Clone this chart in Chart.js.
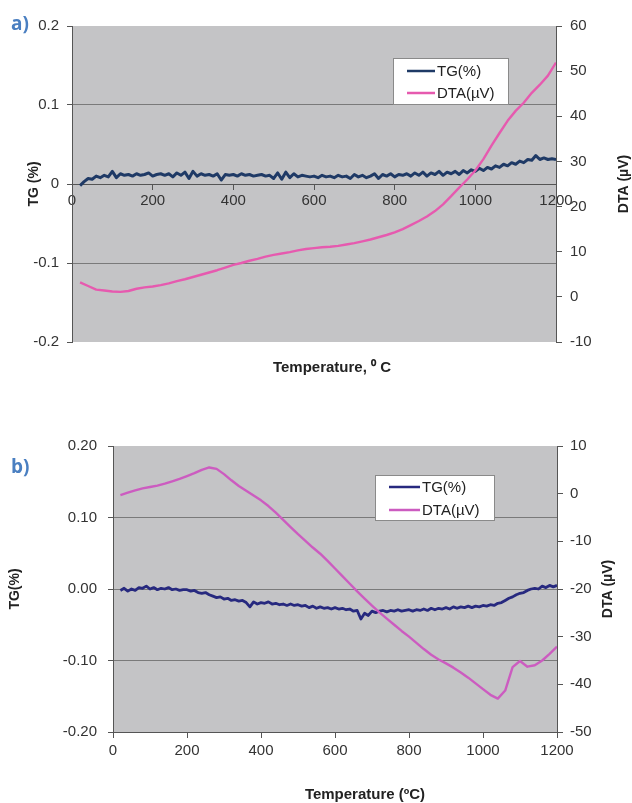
<!DOCTYPE html>
<html>
<head>
<meta charset="utf-8">
<script src="https://cdn.jsdelivr.net/npm/chart.js@4.4.0/dist/chart.umd.min.js"></script>
<style>
html,body{margin:0;padding:0;background:#fff;}
body{width:632px;height:803px;position:relative;overflow:hidden;}
.box{position:absolute;left:0;width:632px;}
.tag{position:absolute;left:11px;z-index:2;font-family:'Open Sans',sans-serif;font-weight:700;font-size:19px;line-height:19px;color:#4a7fc1;}
</style>
</head>
<body>
<div class="box" style="top:0;height:395px"><canvas id="chartA"></canvas></div>
<div class="box" style="top:400px;height:403px"><canvas id="chartB"></canvas></div>
<div class="tag" style="top:14px">a)</div>
<div class="tag" style="top:457px">b)</div>
<script>
// ===================== DATA =====================
// temperature grid (°C) for the TG traces
const tempTG = [
  20,30,40,50,60,70,80,90,100,110,
  120,130,140,150,160,170,180,190,200,210,
  220,230,240,250,260,270,280,290,300,310,
  320,330,340,350,360,370,380,390,400,410,
  420,430,440,450,460,470,480,490,500,510,
  520,530,540,550,560,570,580,590,600,610,
  620,630,640,650,660,670,680,690,700,710,
  720,730,740,750,760,770,780,790,800,810,
  820,830,840,850,860,870,880,890,900,910,
  920,930,940,950,960,970,980,990,1000,1010,
  1020,1030,1040,1050,1060,1070,1080,1090,1100,1110,
  1120,1130,1140,1150,1160,1170,1180,1190,1200
];
// temperature grid (°C) for the DTA traces
const tempDTA = [
  20,40,60,80,100,120,140,160,180,200,
  220,240,260,280,300,320,340,360,380,400,
  420,440,460,480,500,520,540,560,580,600,
  620,640,660,680,700,720,740,760,780,800,
  820,840,860,880,900,920,940,960,980,1000,
  1020,1040,1060,1080,1100,1120,1140,1160,1180,1200
];

// a) TG (%)
const tgA = [
  -0.002,0.003,0.007,0.006,0.010,0.008,0.011,0.009,0.016,0.008,
  0.013,0.011,0.012,0.010,0.013,0.011,0.012,0.014,0.010,0.012,
  0.013,0.011,0.013,0.009,0.014,0.011,0.015,0.007,0.016,0.010,
  0.013,0.011,0.012,0.010,0.013,0.005,0.012,0.011,0.012,0.010,
  0.013,0.011,0.012,0.010,0.011,0.012,0.010,0.011,0.007,0.014,
  0.006,0.015,0.008,0.013,0.009,0.011,0.010,0.009,0.010,0.008,
  0.011,0.009,0.010,0.008,0.011,0.009,0.010,0.007,0.012,0.009,
  0.011,0.008,0.010,0.013,0.007,0.012,0.010,0.013,0.009,0.012,
  0.011,0.013,0.010,0.014,0.011,0.015,0.010,0.014,0.012,0.016,
  0.011,0.015,0.013,0.016,0.012,0.017,0.014,0.018,0.016,0.020,
  0.017,0.021,0.019,0.023,0.021,0.025,0.023,0.027,0.025,0.029,
  0.027,0.031,0.030,0.036,0.031,0.033,0.031,0.032,0.031
];
// a) DTA (µV)
const dtaA = [
  3.2,2.4,1.6,1.4,1.2,1.1,1.3,1.8,2.1,2.3,
  2.6,3.0,3.5,3.9,4.4,4.9,5.4,5.9,6.5,7.1,
  7.5,8.0,8.4,8.9,9.3,9.6,9.9,10.3,10.6,10.8,
  11.0,11.1,11.3,11.6,11.9,12.3,12.7,13.2,13.7,14.3,
  15.0,15.9,16.8,17.8,19.0,20.5,22.3,24.2,26.0,28.0,
  30.5,33.5,36.3,39.0,41.2,43.0,45.2,47.0,49.0,51.9
];

// b) TG (%)
const tgB = [
  -0.002,0.001,-0.003,0.000,-0.002,0.002,0.001,0.004,0.000,0.002,
  -0.001,0.001,0.000,0.002,-0.001,0.000,-0.002,-0.001,-0.001,-0.003,
  -0.002,-0.005,-0.006,-0.005,-0.008,-0.010,-0.012,-0.011,-0.014,-0.013,
  -0.016,-0.015,-0.017,-0.016,-0.019,-0.025,-0.018,-0.021,-0.019,-0.020,
  -0.018,-0.021,-0.020,-0.022,-0.021,-0.023,-0.021,-0.023,-0.022,-0.024,
  -0.023,-0.026,-0.024,-0.027,-0.025,-0.027,-0.026,-0.028,-0.026,-0.028,
  -0.027,-0.029,-0.028,-0.031,-0.030,-0.042,-0.034,-0.037,-0.031,-0.033,
  -0.031,-0.030,-0.032,-0.030,-0.031,-0.029,-0.031,-0.030,-0.029,-0.031,
  -0.029,-0.030,-0.028,-0.030,-0.027,-0.029,-0.027,-0.028,-0.026,-0.028,
  -0.025,-0.027,-0.025,-0.026,-0.024,-0.026,-0.024,-0.025,-0.023,-0.024,
  -0.022,-0.023,-0.020,-0.019,-0.016,-0.013,-0.011,-0.008,-0.006,-0.005,
  -0.002,0.000,0.001,0.000,0.004,0.002,0.005,0.003,0.005
];
// b) DTA (µV)
const dtaB = [
  -0.3,0.2,0.7,1.1,1.4,1.7,2.1,2.6,3.1,3.7,
  4.3,5.0,5.5,5.2,4.1,2.8,1.6,0.6,-0.4,-1.4,
  -2.6,-4.0,-5.5,-7.0,-8.5,-9.9,-11.3,-12.6,-14.1,-15.7,
  -17.3,-18.9,-20.5,-22.0,-23.5,-24.9,-26.2,-27.5,-28.8,-30.0,
  -31.3,-32.6,-33.8,-34.8,-35.6,-36.5,-37.5,-38.6,-39.8,-41.0,
  -42.2,-43.0,-41.3,-36.4,-35.1,-36.3,-36.0,-35.0,-33.6,-32.1
];

const seriesLabels = ['TG(%)','DTA(µV)'];

// ===================== STYLE =====================
const FONT = "'Liberation Sans', Arial, sans-serif";
const PLOT_BG = '#c4c4c6';
const AXIS = '#555';
const GRID = '#7a7a7a';

// gray plot area behind grid/lines
const plotBg = {
  id:'plotBg',
  beforeDraw(chart, args, o){
    const {ctx, chartArea:a} = chart;
    ctx.save();
    ctx.fillStyle = o.color;
    ctx.fillRect(a.left, a.top, a.right-a.left, a.bottom-a.top);
    ctx.restore();
  }
};

// x title, right-hand title (reads bottom-to-top) and boxed legend
const extras = {
  id:'extras',
  afterDraw(chart, args, o){
    const ctx = chart.ctx, a = chart.chartArea;
    ctx.save();
    ctx.fillStyle = '#222';
    ctx.textAlign = 'center'; ctx.textBaseline = 'middle';
    ctx.font = `bold 15px ${FONT}`;
    ctx.fillText(o.xTitle, o.xTitleX, o.xTitleY);
    ctx.font = `bold 14px ${FONT}`;
    ctx.translate(o.rightTitleX, (a.top+a.bottom)/2);
    ctx.rotate(-Math.PI/2);
    ctx.fillText(o.rightTitle, 0, 0);
    ctx.restore();

    const L = o.legend;
    ctx.save();
    ctx.fillStyle = '#fff';
    ctx.fillRect(L.x, L.y, L.w, L.h);
    ctx.strokeStyle = '#8a8a8a'; ctx.lineWidth = 1;
    ctx.strokeRect(L.x+0.5, L.y+0.5, L.w-1, L.h-1);
    ctx.font = `15px ${FONT}`;
    ctx.textAlign = 'left'; ctx.textBaseline = 'middle';
    chart.data.datasets.forEach((ds,i)=>{
      const y = L.rowY[i];
      ctx.strokeStyle = ds.borderColor; ctx.lineWidth = 2.5;
      ctx.beginPath(); ctx.moveTo(L.x1, y); ctx.lineTo(L.x2, y); ctx.stroke();
      ctx.fillStyle = '#222';
      ctx.fillText(ds.label, L.textX, y+1);
    });
    ctx.restore();
  }
};

function buildChart(id, s){
  const tickFont = {family:FONT, size:15};
  return new Chart(document.getElementById(id), {
    type:'line',
    data:{datasets:[
      {label:seriesLabels[0], data:tempTG.map((t,i)=>({x:t,y:s.tg[i]})),
       borderColor:s.tgColor, borderWidth:s.tgWidth, yAxisID:'y', order:1},
      {label:seriesLabels[1], data:tempDTA.map((t,i)=>({x:t,y:s.dta[i]})),
       borderColor:s.dtaColor, borderWidth:2.4, yAxisID:'y2', order:0}
    ]},
    options:{
      responsive:true, maintainAspectRatio:false, animation:false,
      layout:{padding:s.padding},
      elements:{point:{radius:0}, line:{tension:0, borderJoinStyle:'round'}},
      plugins:{legend:{display:false}, tooltip:{enabled:false},
               plotBg:{color:PLOT_BG}, extras:s.extras},
      scales:{
        x:{type:'linear', position:s.xPos, min:0, max:1200,
           ticks:{stepSize:200, color:'#333', font:tickFont, padding:s.xPad, maxRotation:0,
                  callback:v=>String(v)},
           grid:{drawOnChartArea:false, tickLength:s.xTick, tickColor:AXIS},
           border:{color:AXIS},
           afterFit(sc){ if(s.xHeight) sc.height = s.xHeight; }},
        y:{position:'left', min:-0.2, max:0.2,
           ticks:{stepSize:0.1, color:'#333', font:tickFont, padding:s.yPad,
                  callback:v=>{ const r=Math.round(v*10)/10; return s.dec ? r.toFixed(2) : String(r); }},
           grid:{color:c=>Math.abs(c.tick.value)>0.15 ? 'rgba(0,0,0,0)' : GRID, tickLength:5, tickColor:AXIS},
           border:{color:AXIS},
           title:{display:true, text:s.tgTitle, color:'#222', font:{family:FONT, size:14, weight:'bold'},
                  padding:{top:s.titlePad, bottom:0}},
           afterFit(sc){ sc.width = s.leftW; }},
        y2:{position:'right', min:s.dtaMin, max:s.dtaMax,
           ticks:{stepSize:10, color:'#333', font:tickFont, padding:s.y2Pad},
           grid:{drawOnChartArea:false, tickLength:6, tickColor:AXIS},
           border:{color:AXIS},
           afterFit(sc){ sc.width = s.rightW; }}
      }
    },
    plugins:[plotBg, extras]
  });
}

// a)
buildChart('chartA', {
  tg:tgA, dta:dtaA, tgColor:'#1f3a66', dtaColor:'#e65aaf', tgWidth:3,
  padding:{top:26, bottom:53, left:0, right:0},
  xPos:{y:0}, xPad:3, xTick:5, xHeight:null,
  yPad:8, y2Pad:8, dec:false, titlePad:26, tgTitle:'TG (%)',
  leftW:72, rightW:76, dtaMin:-10, dtaMax:60,
  extras:{xTitle:'Temperature, \u2070 C', xTitleX:332, xTitleY:368,
          rightTitle:'DTA (µV)', rightTitleX:624,
          legend:{x:393, y:58, w:116, h:47, x1:407, x2:435, textX:437, rowY:[71,93]}}
});

// b)
buildChart('chartB', {
  tg:tgB, dta:dtaB, tgColor:'#27297f', dtaColor:'#cc5cc0', tgWidth:2.8,
  padding:{top:46, bottom:0, left:0, right:0},
  xPos:'bottom', xPad:4, xTick:6, xHeight:71,
  yPad:11, y2Pad:7, dec:true, titlePad:7, tgTitle:'TG(%)',
  leftW:113, rightW:75, dtaMin:-50, dtaMax:10,
  extras:{xTitle:'Temperature (ºC)', xTitleX:365, xTitleY:395,
          rightTitle:'DTA (µV)', rightTitleX:608,
          legend:{x:375, y:75, w:120, h:46, x1:389, x2:420, textX:422, rowY:[87,110]}}
});
</script>
</body>
</html>
